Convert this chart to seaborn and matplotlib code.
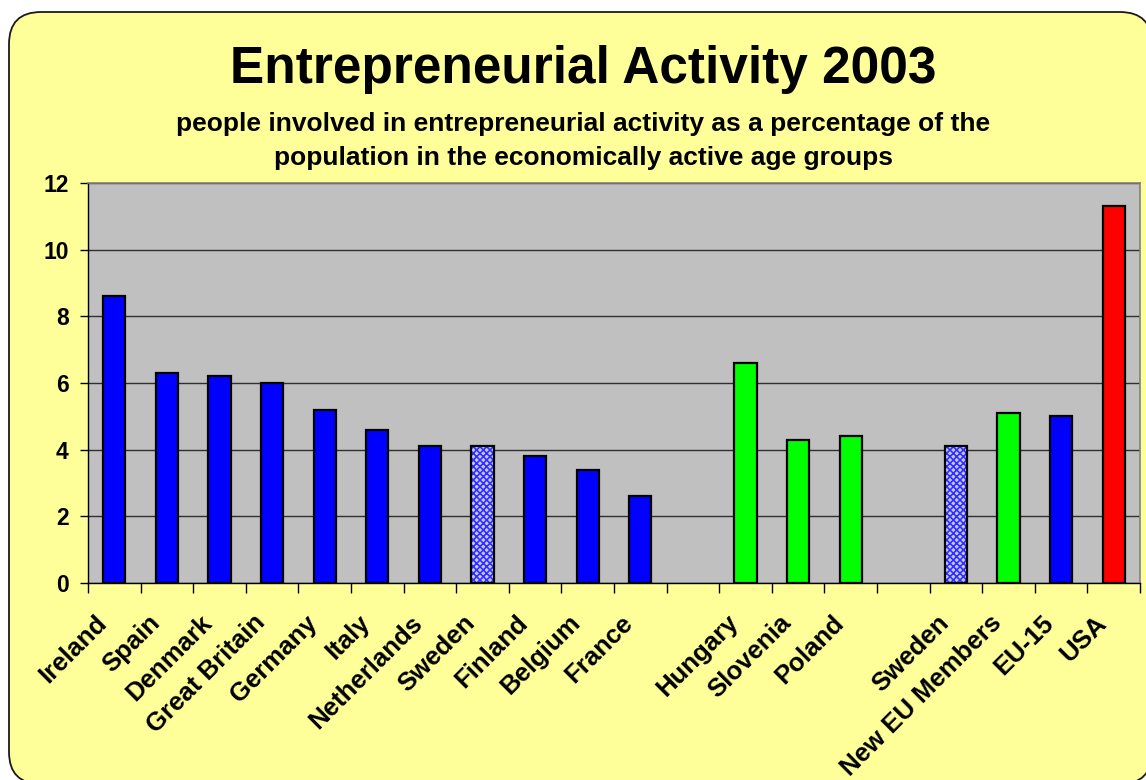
import matplotlib
matplotlib.use("Agg")
import matplotlib.pyplot as plt
import matplotlib.transforms as mtransforms
from matplotlib.patches import FancyBboxPatch, Rectangle
import numpy as np
import pandas as pd
import seaborn as sns

# Chart data: one slot per category, empty slots separate the groups
labels = ["Ireland", "Spain", "Denmark", "Great Britain", "Germany", "Italy",
          "Netherlands", "Sweden", "Finland", "Belgium", "France", "",
          "Hungary", "Slovenia", "Poland", "", "Sweden", "New EU Members",
          "EU-15", "USA"]
values = [8.6, 6.3, 6.2, 6.0, 5.2, 4.6, 4.1, 4.1, 3.8, 3.4, 2.6, None,
          6.6, 4.3, 4.4, None, 4.1, 5.1, 5.0, 11.3]
groups = ["eu15"] * 7 + ["sweden"] + ["eu15"] * 3 + [None] + ["new"] * 3 + [None] + \
         ["sweden", "new", "eu15", "usa"]

group_order = ["eu15", "sweden", "new", "usa"]
palette = {"eu15": "#0000FF", "sweden": "#9C9CFF", "new": "#00FF00", "usa": "#FF0000"}

df = pd.DataFrame({"slot": list(range(len(labels))), "value": values, "group": groups})
df = df.dropna(subset=["value"])

sns.set_theme(style="white")
plt.rcParams["font.family"] = ["Liberation Sans", "DejaVu Sans"]
plt.rcParams["font.weight"] = "bold"
plt.rcParams["hatch.linewidth"] = 1.2

W, H = 1146, 780
fig = plt.figure(figsize=(W / 100, H / 100), dpi=100, facecolor="white")

# Rounded yellow frame behind everything
frame = FancyBboxPatch((9 / W, 1 - 784 / H), (1152 - 9) / W, (784 - 12) / H,
                       boxstyle="round,pad=0,rounding_size=0.028",
                       transform=fig.transFigure, facecolor="#FFFF99",
                       edgecolor="#1a1a1a", linewidth=1.3, zorder=-5,
                       mutation_aspect=W / H)
fig.patches.append(frame)

ax = fig.add_axes([88 / W, 1 - 583 / H, (1140 - 88) / W, (583 - 183) / H])
ax.set_facecolor("#C0C0C0")

sns.barplot(data=df, x="slot", y="value", hue="group", hue_order=group_order,
            palette=palette, order=list(range(len(labels))), dodge=False,
            width=0.42, edgecolor="black", linewidth=1.6, saturation=1,
            legend=False, ax=ax, zorder=3)

# Sweden bars get a fine checkered fill
for patch in ax.containers[group_order.index("sweden")]:
    patch.set_facecolor("#C8C8FF")
    patch.set_edgecolor("#3030FF")
    patch.set_hatch("xxxxx")
    patch.set_linewidth(0)
    outline = Rectangle(patch.get_xy(), patch.get_width(), patch.get_height(),
                        fill=False, edgecolor="black", linewidth=1.6, zorder=4)
    ax.add_patch(outline)

ax.set_xlim(-0.5, len(labels) - 0.5)
ax.set_ylim(0, 12)
ax.set_yticks(np.arange(0, 13, 2))
ax.yaxis.grid(True, color="#303030", linewidth=1.0)
ax.set_axisbelow(True)
ax.set_xlabel("")
ax.set_ylabel("")

for side in ["top", "right"]:
    ax.spines[side].set_color("#808080")
    ax.spines[side].set_linewidth(1.2)
for side in ["left", "bottom"]:
    ax.spines[side].set_color("black")
    ax.spines[side].set_linewidth(1.0)

ax.tick_params(axis="y", left=True, length=6, width=1, color="black",
               labelsize=16.5, labelcolor="black", pad=8)
for t in ax.get_yticklabels():
    t.set_fontweight("bold")

# Category labels under the slot centres, tick marks on slot boundaries
ax.set_xticks(np.arange(len(labels)))
ax.set_xticklabels(labels, rotation=45, ha="right", va="center",
                   rotation_mode="anchor", fontsize=18.5, fontweight="bold",
                   color="black")
ax.tick_params(axis="x", which="major", length=0, pad=26)
ax.set_xticks(np.arange(-0.5, len(labels), 1), minor=True)
ax.tick_params(axis="x", which="minor", bottom=True, length=7, width=1,
               color="black")
shift = mtransforms.ScaledTranslation(-0.11, 0, fig.dpi_scale_trans)
for t in ax.get_xticklabels():
    t.set_transform(t.get_transform() + shift)

fig.text(0.509, 1 - 70 / H, "Entrepreneurial Activity 2003", ha="center",
         va="center", fontsize=37, fontweight="bold", color="black")
fig.text(0.509, 1 - 124 / H,
         "people involved in entrepreneurial activity as a percentage of the",
         ha="center", va="center", fontsize=19, fontweight="bold", color="black")
fig.text(0.509, 1 - 158 / H,
         "population in the economically active age groups",
         ha="center", va="center", fontsize=19, fontweight="bold", color="black")

fig.savefig("out.png", dpi=100, facecolor="white")
